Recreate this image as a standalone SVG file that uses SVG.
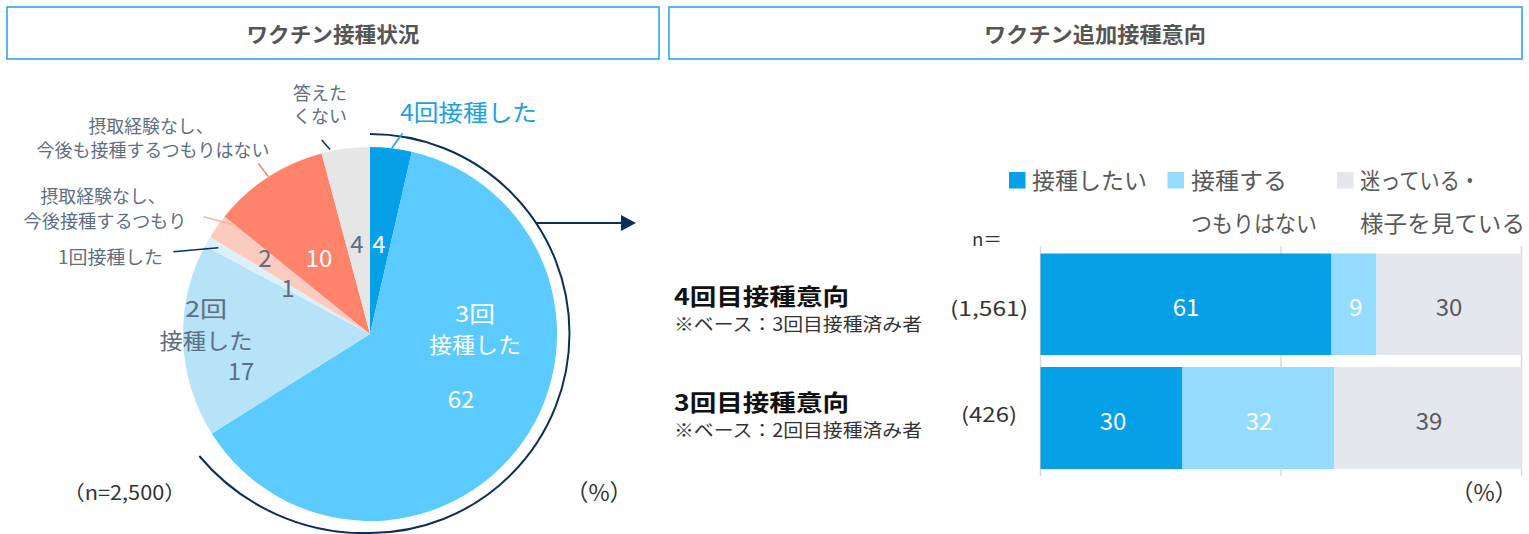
<svg xmlns="http://www.w3.org/2000/svg" width="1529" height="534" viewBox="0 0 1529 534">
<defs>
<style>
text{font-family:'Noto Sans CJK JP','Noto Sans',sans-serif;}
.hdr{fill:#fff;stroke:#1EA0E6;stroke-width:1.5;}
.hdrt{font-size:21px;font-weight:bold;fill:#555;text-anchor:middle;}
.lbl{font-size:18px;fill:#5E6E84;}
.in{font-size:24px;fill:#5E6E84;}
.inw{font-size:24px;fill:#fff;}
.in2{font-size:22px;fill:#5E6E84;}
.inw2{font-size:22px;fill:#fff;}
.leg{font-size:23px;fill:#595959;}
.row{font-size:23px;font-weight:bold;fill:#111;}
.base{font-size:18px;fill:#333;}
.nv{font-size:20px;fill:#333;}
.pc{font-size:23px;fill:#333;text-anchor:middle;}
.bv{font-size:24px;fill:#fff;text-anchor:middle;}
.bg{font-size:24px;fill:#595959;text-anchor:middle;}
.grid{stroke:#D9D9D9;stroke-width:1.5;}
.navy{stroke:#0B2F5B;fill:none;stroke-width:2;}
</style>
</defs>
<rect width="1529" height="534" fill="#fff"/>

<g id="header-left">
<rect class="hdr" x="7" y="7" width="652" height="52"/>
<text class="hdrt" x="333" y="42" textLength="173" lengthAdjust="spacingAndGlyphs">ワクチン接種状況</text>
</g>
<g id="header-right">
<rect class="hdr" x="669" y="7" width="853" height="52"/>
<text class="hdrt" x="1095" y="42" textLength="222" lengthAdjust="spacingAndGlyphs">ワクチン追加接種意向</text>
</g>

<g id="pie">
<path id="slice-4kai" d="M370,334 L370,147 A187,187 0 0 1 411.8,151.7 Z" fill="#05A0E8"/>
<path id="slice-3kai" d="M370,334 L411.8,151.7 A187,187 0 1 1 211.8,433.6 Z" fill="#5BCBFF"/>
<path id="slice-2kai" d="M370,334 L211.8,433.6 A187,187 0 0 1 205.0,245.9 Z" fill="#B6E3F8"/>
<path id="slice-1kai" d="M370,334 L205.0,245.9 A187,187 0 0 1 210.2,236.9 Z" fill="#DDF0FA"/>
<path id="slice-kongo" d="M370,334 L210.2,236.9 A187,187 0 0 1 224.5,216.6 Z" fill="#FCCBC0"/>
<path id="slice-nai" d="M370,334 L224.5,216.6 A187,187 0 0 1 321.6,153.4 Z" fill="#FF826B"/>
<path id="slice-kotaetakunai" d="M370,334 L321.6,153.4 A187,187 0 0 1 370,147 Z" fill="#E6E6E6"/>
</g>

<g id="connectors">
<path class="navy" d="M370,134 A199.5,199.5 0 0 1 370,533 A215,215 0 0 1 199.3,456"/>
<line class="navy" x1="536" y1="223" x2="624" y2="223"/>
<polygon points="621,215 636,223 621,231" fill="#0B2F5B"/>
<line x1="402.7" y1="133.3" x2="391.7" y2="148.3" stroke="#1BA1E2" stroke-width="1.5"/>
<line x1="321.7" y1="140" x2="330" y2="149.5" stroke="#0B2F5B" stroke-width="1.5"/>
<line x1="258.3" y1="163.3" x2="268.3" y2="176.7" stroke="#FF826B" stroke-width="1.5"/>
<line x1="203.3" y1="216.7" x2="235" y2="225" stroke="#F9B4A5" stroke-width="1.5"/>
<line x1="173.3" y1="251.7" x2="218.3" y2="247.7" stroke="#0B2F5B" stroke-width="1.5"/>
</g>

<g id="pie-labels">
<text x="400" y="121" font-size="23" fill="#1BA1E2" textLength="137" lengthAdjust="spacingAndGlyphs">4回接種した</text>
<text class="lbl" x="320" y="100" text-anchor="middle">答えた</text>
<text class="lbl" x="320" y="123" text-anchor="middle">くない</text>
<text class="lbl" x="151" y="133" text-anchor="middle" textLength="125" lengthAdjust="spacingAndGlyphs">摂取経験なし、</text>
<text class="lbl" x="153" y="157" text-anchor="middle" textLength="233" lengthAdjust="spacingAndGlyphs">今後も接種するつもりはない</text>
<text class="lbl" x="103" y="203" text-anchor="middle" textLength="125" lengthAdjust="spacingAndGlyphs">摂取経験なし、</text>
<text class="lbl" x="105" y="228" text-anchor="middle" textLength="163" lengthAdjust="spacingAndGlyphs">今後接種するつもり</text>
<text class="lbl" x="58" y="264" textLength="105" lengthAdjust="spacingAndGlyphs">1回接種した</text>
<text class="in" x="265" y="267" text-anchor="middle">2</text>
<text class="inw" x="319" y="267" text-anchor="middle">10</text>
<text class="in" x="357" y="253" text-anchor="middle">4</text>
<text class="inw" x="379" y="253" text-anchor="middle">4</text>
<text class="in" x="288" y="297" text-anchor="middle">1</text>
<text class="in2" x="206" y="317" text-anchor="middle" textLength="42" lengthAdjust="spacingAndGlyphs">2回</text>
<text class="in2" x="206" y="349" text-anchor="middle" textLength="93" lengthAdjust="spacingAndGlyphs">接種した</text>
<text class="in" x="241" y="380" text-anchor="middle">17</text>
<text class="inw2" x="475" y="322" text-anchor="middle" textLength="40" lengthAdjust="spacingAndGlyphs">3回</text>
<text class="inw2" x="475" y="353" text-anchor="middle" textLength="92" lengthAdjust="spacingAndGlyphs">接種した</text>
<text class="inw" x="461" y="408" text-anchor="middle">62</text>
<text class="nv" x="63" y="500" font-size="21" textLength="123" lengthAdjust="spacingAndGlyphs">（n=2,500）</text>
<text class="pc" x="599" y="501">（%）</text>
</g>

<g id="legend">
<rect x="1009" y="172" width="16.5" height="16.5" fill="#05A0E8"/>
<text class="leg" x="1032" y="189" textLength="115" lengthAdjust="spacingAndGlyphs">接種したい</text>
<rect x="1167.5" y="172" width="16.5" height="16.5" fill="#94DCFF"/>
<text class="leg" x="1191" y="189" textLength="96" lengthAdjust="spacingAndGlyphs">接種する</text>
<text class="leg" x="1191" y="232" textLength="126" lengthAdjust="spacingAndGlyphs">つもりはない</text>
<rect x="1337" y="172" width="16.5" height="16.5" fill="#E4E8ED"/>
<text class="leg" x="1360" y="189" textLength="120" lengthAdjust="spacingAndGlyphs">迷っている・</text>
<text class="leg" x="1360" y="232" textLength="165" lengthAdjust="spacingAndGlyphs">様子を見ている</text>
</g>

<g id="axis">
<text x="972" y="246" font-size="18" fill="#333" textLength="30" lengthAdjust="spacingAndGlyphs">n＝</text>
<line class="grid" x1="1040.5" y1="246" x2="1040.5" y2="476"/>
<line class="grid" x1="1281" y1="246" x2="1281" y2="476"/>
<line class="grid" x1="1521.5" y1="246" x2="1521.5" y2="476"/>
</g>

<g id="row-4kaime">
<text class="row" x="674" y="305" textLength="175" lengthAdjust="spacingAndGlyphs">4回目接種意向</text>
<text class="base" x="674" y="331" textLength="248" lengthAdjust="spacingAndGlyphs">※ベース：3回目接種済み者</text>
<text class="nv" x="950" y="316" textLength="78" lengthAdjust="spacingAndGlyphs">(1,561)</text>
<rect x="1040.5" y="253.5" width="291" height="101.5" fill="#05A0E8"/>
<rect x="1331.5" y="253.5" width="45" height="101.5" fill="#94DCFF"/>
<rect x="1376.5" y="253.5" width="145" height="101.5" fill="#E4E8ED"/>
<text class="bv" x="1186" y="316">61</text>
<text class="bv" x="1356" y="316">9</text>
<text class="bg" x="1449" y="316">30</text>
</g>

<g id="row-3kaime">
<text class="row" x="674" y="411" textLength="175" lengthAdjust="spacingAndGlyphs">3回目接種意向</text>
<text class="base" x="674" y="437" textLength="248" lengthAdjust="spacingAndGlyphs">※ベース：2回目接種済み者</text>
<text class="nv" x="961" y="422" textLength="56" lengthAdjust="spacingAndGlyphs">(426)</text>
<rect x="1040.5" y="367" width="142" height="102" fill="#05A0E8"/>
<rect x="1182.5" y="367" width="151.5" height="102" fill="#94DCFF"/>
<rect x="1334" y="367" width="187.5" height="102" fill="#E4E8ED"/>
<text class="bv" x="1113" y="430">30</text>
<text class="bv" x="1259" y="430">32</text>
<text class="bg" x="1429" y="430">39</text>
<text class="pc" x="1484" y="501">（%）</text>
</g>
</svg>
